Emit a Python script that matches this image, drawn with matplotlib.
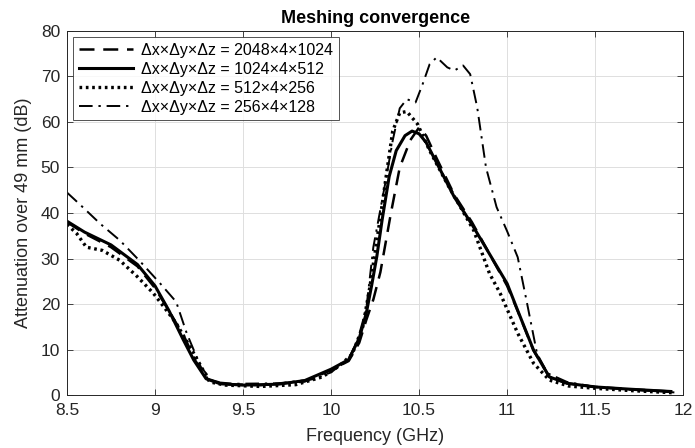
import matplotlib
matplotlib.use("Agg")
import matplotlib.pyplot as plt

plt.rcParams['font.family'] = ['Liberation Sans', 'DejaVu Sans']

# --- data ---
f_2048 = [8.5, 8.6, 8.75, 8.9, 9.0, 9.08, 9.17, 9.23, 9.3, 9.4, 9.6, 9.85, 10.0,
          10.1, 10.16, 10.2, 10.24, 10.28, 10.34, 10.39, 10.45, 10.5, 10.54, 10.6,
          10.7, 10.8, 10.9, 11.0, 11.06, 11.15, 11.24, 11.34, 11.5, 11.7, 11.93]
a_2048 = [38.0, 35.5, 32.5, 28.3, 23.5, 18.5, 12.5, 7.5, 3.5, 2.4, 2.2, 3.0, 5.5,
          7.5, 11.5, 16.5, 21.0, 27.0, 40.0, 50.0, 56.0, 58.8, 57.0, 52.0,
          44.0, 38.0, 31.0, 24.0, 18.5, 9.8, 4.0, 2.6, 1.8, 1.3, 0.8]

f_1024 = [8.5, 8.6, 8.75, 8.9, 9.0, 9.08, 9.16, 9.22, 9.29, 9.37, 9.5, 9.7, 9.85,
          10.0, 10.1, 10.16, 10.2, 10.23, 10.26, 10.29, 10.33, 10.37, 10.42, 10.46,
          10.5, 10.54, 10.6, 10.7, 10.8, 10.9, 11.0, 11.06, 11.15, 11.24, 11.34,
          11.5, 11.7, 11.93]
a_1024 = [38.2, 35.8, 33.0, 28.7, 24.0, 18.5, 12.2, 7.7, 3.6, 2.5, 2.2, 2.4, 3.2,
          5.7, 7.8, 12.5, 18.0, 24.0, 30.5, 38.5, 48.0, 53.7, 57.0, 58.0,
          57.4, 55.5, 51.0, 43.5, 37.5, 31.0, 24.5, 18.6, 9.9, 4.0, 2.6,
          1.8, 1.3, 0.8]

f_512 = [8.5, 8.555, 8.61, 8.7, 8.8, 8.9, 8.99, 9.05, 9.12, 9.22, 9.31, 9.4, 9.6,
         9.8, 9.95, 10.05, 10.12, 10.18, 10.22, 10.28, 10.32, 10.35, 10.39, 10.43,
         10.49, 10.56, 10.66, 10.81, 10.9, 10.96, 11.06, 11.15, 11.24, 11.35, 11.5,
         11.7, 11.95]
a_512 = [37.5, 35.5, 32.5, 31.8, 29.6, 26.0, 22.4, 19.4, 15.8, 9.2, 2.9, 2.2, 1.9,
         2.3, 4.0, 6.5, 9.0, 15.0, 23.7, 39.1, 50.0, 58.0, 62.0, 62.3,
         59.6, 53.7, 46.4, 36.2, 26.7, 22.4, 13.6, 7.0, 3.3, 2.0, 1.5,
         1.0, 0.5]

f_256 = [8.5, 8.57, 8.69, 8.8, 8.91, 9.03, 9.12, 9.18, 9.26, 9.33, 9.45, 9.7, 9.9,
         10.0, 10.1, 10.15, 10.2, 10.24, 10.31, 10.35, 10.39, 10.43, 10.48, 10.52,
         10.56, 10.6, 10.66, 10.7, 10.75, 10.79, 10.83, 10.88, 10.94, 11.0, 11.06,
         11.11, 11.17, 11.23, 11.34, 11.5, 11.7, 11.95]
a_256 = [44.5, 42.0, 37.6, 34.0, 29.6, 24.5, 20.5, 13.6, 6.2, 2.9, 2.5, 2.6, 3.5,
         5.0, 8.0, 12.0, 19.0, 32.5, 47.0, 55.9, 63.0, 65.0, 64.3, 68.3,
         72.7, 74.2, 72.0, 71.3, 72.4, 70.5, 63.2, 50.0, 41.3, 36.0, 30.3,
         20.8, 9.1, 4.8, 2.9, 1.8, 1.2, 0.6]

labels = ['\u0394x\u00d7\u0394y\u00d7\u0394z = 2048\u00d74\u00d71024',
          '\u0394x\u00d7\u0394y\u00d7\u0394z = 1024\u00d74\u00d7512',
          '\u0394x\u00d7\u0394y\u00d7\u0394z = 512\u00d74\u00d7256',
          '\u0394x\u00d7\u0394y\u00d7\u0394z = 256\u00d74\u00d7128']

xticks = [8.5, 9, 9.5, 10, 10.5, 11, 11.5, 12]
yticks = [0, 10, 20, 30, 40, 50, 60, 70, 80]

fig = plt.figure(figsize=(6.95, 4.48), dpi=100)
ax = fig.add_axes([0.0964, 0.118, 0.8866, 0.813])

ax.plot(f_2048, a_2048, color='k', lw=1.8, dashes=(6, 3.5), label=labels[0])
ax.plot(f_1024, a_1024, color='k', lw=2.2, ls='-', label=labels[1])
ax.plot(f_512, a_512, color='k', lw=2.4, dashes=(0.8, 1.1), label=labels[2])
ax.plot(f_256, a_256, color='k', lw=1.4, dashes=(7, 3, 1.2, 3), label=labels[3])

ax.set_xlim(8.5, 12)
ax.set_ylim(0, 80)
ax.set_xticks(xticks)
ax.set_xticklabels(['8.5', '9', '9.5', '10', '10.5', '11', '11.5', '12'])
ax.set_yticks(yticks)
ax.tick_params(direction='in', top=True, right=True, labelsize=12.5,
               colors='#262626', length=4, width=0.6)
ax.tick_params(axis='x', pad=6)
ax.tick_params(axis='y', pad=5)
for s in ax.spines.values():
    s.set_color('#262626')
    s.set_linewidth(0.7)
ax.grid(True, color='#dedede', lw=0.7)
ax.set_axisbelow(True)

ax.set_xlabel('Frequency (GHz)', fontsize=13, color='#262626', labelpad=7)
ax.set_ylabel('Attenuation over 49 mm (dB)', fontsize=13, color='#262626', labelpad=6)
ax.set_title('Meshing convergence', fontsize=13, fontweight='bold', pad=6)

leg = ax.legend(loc='upper left', fontsize=11.5, handlelength=3.4, frameon=True,
                fancybox=False, edgecolor='#262626', borderaxespad=0.4,
                labelspacing=0.25, borderpad=0.35, handletextpad=0.5)
leg.get_frame().set_linewidth(0.7)

fig.savefig('out.png', dpi=100)
